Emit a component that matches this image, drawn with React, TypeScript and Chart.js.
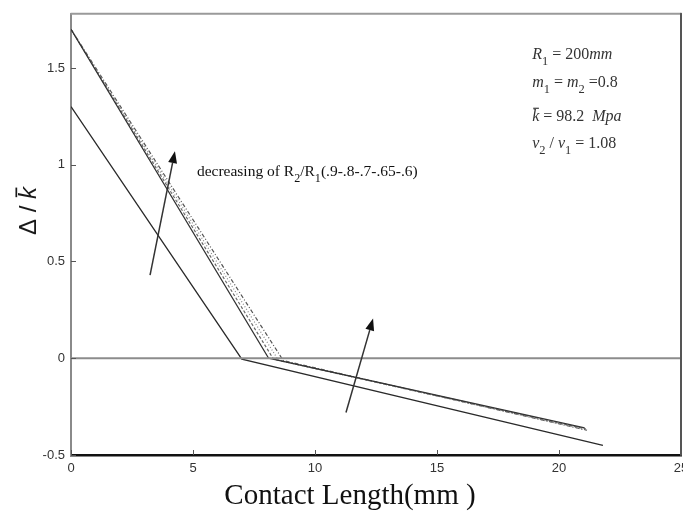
import React, { useEffect, useRef } from "react";
import { Chart, registerables } from "chart.js";

Chart.register(...registerables);

// ---- axis ticks ----
const xTickValues = [0, 5, 10, 15, 20, 25];
const yTickValues = [-0.5, 0, 0.5, 1, 1.5];
const xMin = 0;
const xMax = 25;
const yMin = -0.5;
const yMax = 1.78;

// ---- series (R2/R1 ratios) ----
const ratioLabels = ["0.9", "0.8", "0.7", "0.65", "0.6"];
const x09 = [0, 7.0, 21.8];
const y09 = [1.3, -0.005, -0.45];
const x08 = [0, 8.1, 21.05];
const y08 = [1.7, 0.0, -0.36];
const x07 = [0, 8.3, 21.1];
const y07 = [1.7, -0.005, -0.365];
const x065 = [0, 8.5, 21.1];
const y065 = [1.7, -0.01, -0.37];
const x06 = [0, 8.7, 21.15];
const y06 = [1.7, -0.012, -0.372];

// zero reference line
const zeroX = [0, 25];
const zeroY = [0, 0];

// ---- annotation arrows (data coords: tail -> head) ----
const arrow1 = [3.24, 0.43, 4.26, 1.07];
const arrow2 = [11.27, -0.28, 12.38, 0.205];

// ---- annotation texts ----
const decreasingPos = [5.16, 0.94];
const decreasingRuns = [
  { t: "decreasing of R", s: "r" },
  { t: "2", s: "sub" },
  { t: "/R", s: "r" },
  { t: "1", s: "sub" },
  { t: "(.9-.8-.7-.65-.6)", s: "r" },
];
const noteX = 18.9;
const noteYs = [1.548, 1.4, 1.224, 1.085];
const noteLines = [
  [
    { t: "R", s: "i" },
    { t: "1", s: "sub" },
    { t: " = 200", s: "r" },
    { t: "mm", s: "i" },
  ],
  [
    { t: "m", s: "i" },
    { t: "1", s: "sub" },
    { t: " = ", s: "r" },
    { t: "m", s: "i" },
    { t: "2", s: "sub" },
    { t: " =0.8", s: "r" },
  ],
  [
    { t: "k", s: "bar" },
    { t: " = 98.2  ", s: "r" },
    { t: "Mpa", s: "i" },
  ],
  [
    { t: "\u03BD", s: "i" },
    { t: "2", s: "sub" },
    { t: " / ", s: "r" },
    { t: "\u03BD", s: "i" },
    { t: "1", s: "sub" },
    { t: " = 1.08", s: "r" },
  ],
];
const xTitle = "Contact Length(mm )";
const yTitleRuns = [
  { t: "\u0394 / ", s: "r" },
  { t: "k", s: "bar" },
];

type Run = { t: string; s: string };

function zip(xs: number[], ys: number[]) {
  return xs.map((x, i) => ({ x, y: ys[i] }));
}

function runsWidth(ctx: CanvasRenderingContext2D, runs: Run[], size: number, family: string) {
  let w = 0;
  for (const r of runs) {
    const italic = r.s === "i" || r.s === "bar";
    const fs = r.s === "sub" ? size * 0.78 : size;
    ctx.font = `${italic ? "italic " : ""}${fs}px ${family}`;
    w += ctx.measureText(r.t).width;
  }
  return w;
}

function drawRuns(
  ctx: CanvasRenderingContext2D,
  runs: Run[],
  x: number,
  y: number,
  size: number,
  family: string
) {
  let cx = x;
  for (const r of runs) {
    const italic = r.s === "i" || r.s === "bar";
    const sub = r.s === "sub";
    const fs = sub ? size * 0.78 : size;
    ctx.font = `${italic ? "italic " : ""}${fs}px ${family}`;
    const dy = sub ? size * 0.38 : 0;
    ctx.fillText(r.t, cx, y + dy);
    const w = ctx.measureText(r.t).width;
    if (r.s === "bar") {
      ctx.save();
      ctx.lineWidth = Math.max(1, size / 14);
      ctx.strokeStyle = ctx.fillStyle as string;
      ctx.beginPath();
      ctx.moveTo(cx + w * 0.15, y - size * 0.82);
      ctx.lineTo(cx + w * 0.95, y - size * 0.82);
      ctx.stroke();
      ctx.restore();
    }
    cx += w;
  }
}

const overlayPlugin = {
  id: "overlay",
  afterDraw(chart: any) {
    const { ctx, chartArea: a } = chart;
    const xs = chart.scales.x;
    const ys = chart.scales.y;
    ctx.save();
    ctx.lineJoin = "round";
    ctx.lineCap = "round";
    // top and right frame
    ctx.strokeStyle = "#9a9a9a";
    ctx.lineWidth = 2;
    ctx.beginPath();
    ctx.moveTo(a.left, a.top);
    ctx.lineTo(a.right, a.top);
    ctx.stroke();
    ctx.strokeStyle = "#555";
    ctx.beginPath();
    ctx.moveTo(a.right, a.top);
    ctx.lineTo(a.right, a.bottom);
    ctx.stroke();

    // inside ticks
    ctx.lineCap = "butt";
    ctx.strokeStyle = "#555";
    ctx.lineWidth = 1;
    for (const v of yTickValues) {
      const py = Math.round(ys.getPixelForValue(v)) + 0.5;
      ctx.beginPath();
      ctx.moveTo(a.left, py);
      ctx.lineTo(a.left + 5, py);
      ctx.stroke();
    }
    for (const v of xTickValues) {
      const px = Math.round(xs.getPixelForValue(v)) + 0.5;
      ctx.beginPath();
      ctx.moveTo(px, a.bottom);
      ctx.lineTo(px, a.bottom - 5);
      ctx.stroke();
    }

    // arrows
    for (const ar of [arrow1, arrow2]) {
      const x0 = xs.getPixelForValue(ar[0]);
      const y0 = ys.getPixelForValue(ar[1]);
      const x1 = xs.getPixelForValue(ar[2]);
      const y1 = ys.getPixelForValue(ar[3]);
      const ang = Math.atan2(y1 - y0, x1 - x0);
      const hl = 12;
      const hw = 4.5;
      const bx = x1 - hl * Math.cos(ang);
      const by = y1 - hl * Math.sin(ang);
      ctx.strokeStyle = "#333";
      ctx.fillStyle = "#111";
      ctx.lineWidth = 1.5;
      ctx.beginPath();
      ctx.moveTo(x0, y0);
      ctx.lineTo(bx, by);
      ctx.stroke();
      ctx.beginPath();
      ctx.moveTo(x1, y1);
      ctx.lineTo(bx + hw * Math.sin(ang), by - hw * Math.cos(ang));
      ctx.lineTo(bx - hw * Math.sin(ang), by + hw * Math.cos(ang));
      ctx.closePath();
      ctx.fill();
    }

    // annotation texts
    ctx.fillStyle = "#111";
    ctx.textAlign = "left";
    ctx.textBaseline = "alphabetic";
    drawRuns(
      ctx,
      decreasingRuns,
      xs.getPixelForValue(decreasingPos[0]),
      ys.getPixelForValue(decreasingPos[1]),
      15.5,
      '"Liberation Serif", serif'
    );
    ctx.fillStyle = "#333";
    noteLines.forEach((runs, i) => {
      drawRuns(
        ctx,
        runs,
        xs.getPixelForValue(noteX),
        ys.getPixelForValue(noteYs[i]),
        16,
        '"Liberation Serif", serif'
      );
    });

    // x title
    ctx.fillStyle = "#111";
    ctx.textAlign = "center";
    ctx.textBaseline = "middle";
    ctx.font = '29px "Liberation Serif", serif';
    ctx.fillText(xTitle, 350, 496);

    // y title (rotated)
    ctx.save();
    ctx.translate(28, 211);
    ctx.rotate(-Math.PI / 2);
    ctx.textAlign = "left";
    ctx.textBaseline = "alphabetic";
    ctx.fillStyle = "#1a1a1a";
    const fam = '"Liberation Sans", sans-serif';
    const w = runsWidth(ctx, yTitleRuns, 24, fam);
    drawRuns(ctx, yTitleRuns, -w / 2, 8, 24, fam);
    ctx.restore();

    ctx.restore();
  },
};

export default function App() {
  const canvasRef = useRef<HTMLCanvasElement | null>(null);

  useEffect(() => {
    const canvas = canvasRef.current;
    if (!canvas) return;
    const mk = (
      label: string,
      xs: number[],
      ys: number[],
      color: string,
      width: number,
      dash: number[]
    ) => ({
      label,
      data: zip(xs, ys),
      borderColor: color,
      backgroundColor: color,
      borderWidth: width,
      borderDash: dash,
      pointRadius: 0,
      fill: false,
      tension: 0,
    });
    const tickFont = { family: '"Liberation Sans", sans-serif', size: 13 };
    const chart = new Chart(canvas, {
      type: "line",
      data: {
        datasets: [
          mk("zero", zeroX, zeroY, "#8c8c8c", 2, []),
          mk(ratioLabels[0], x09, y09, "#2a2a2a", 1.3, []),
          mk(ratioLabels[1], x08, y08, "#333", 1.3, []),
          mk(ratioLabels[2], x07, y07, "#6a6a6a", 1.2, [3, 2]),
          mk(ratioLabels[3], x065, y065, "#8a8a8a", 1.2, [1, 2]),
          mk(ratioLabels[4], x06, y06, "#555", 1.2, [4, 2, 1, 2]),
        ],
      },
      options: {
        responsive: false,
        animation: false,
        events: [],
        layout: { padding: { top: 12, right: 19, left: 0, bottom: 0 } },
        plugins: {
          legend: { display: false },
          tooltip: { enabled: false },
        },
        scales: {
          x: {
            type: "linear",
            min: xMin,
            max: xMax,
            afterBuildTicks: (s: any) => {
              s.ticks = xTickValues.map((v) => ({ value: v }));
            },
            afterFit: (s: any) => {
              s.height = 60;
            },
            grid: { display: false, drawTicks: false },
            border: { display: true, color: "#111", width: 2.5 },
            ticks: {
              includeBounds: false,
              autoSkip: false,
              maxRotation: 0,
              padding: 6,
              color: "#333",
              font: tickFont,
              callback: (v: any) => String(v),
            },
          },
          y: {
            type: "linear",
            min: yMin,
            max: yMax,
            afterBuildTicks: (s: any) => {
              s.ticks = yTickValues.map((v) => ({ value: v }));
            },
            afterFit: (s: any) => {
              s.width = 71;
            },
            grid: { display: false, drawTicks: false },
            border: { display: true, color: "#8a8a8a", width: 2 },
            ticks: {
              includeBounds: false,
              autoSkip: false,
              padding: 6,
              color: "#333",
              font: tickFont,
              callback: (v: any) => String(v),
            },
          },
        },
      },
      plugins: [overlayPlugin],
    } as any);
    return () => chart.destroy();
  }, []);

  return (
    <div
      style={{
        position: "fixed",
        left: 0,
        top: 0,
        width: 683,
        height: 515,
        overflow: "hidden",
        background: "#fff",
      }}
    >
      <canvas
        ref={canvasRef}
        width={700}
        height={515}
        style={{ width: 700, height: 515, display: "block" }}
      />
    </div>
  );
}
